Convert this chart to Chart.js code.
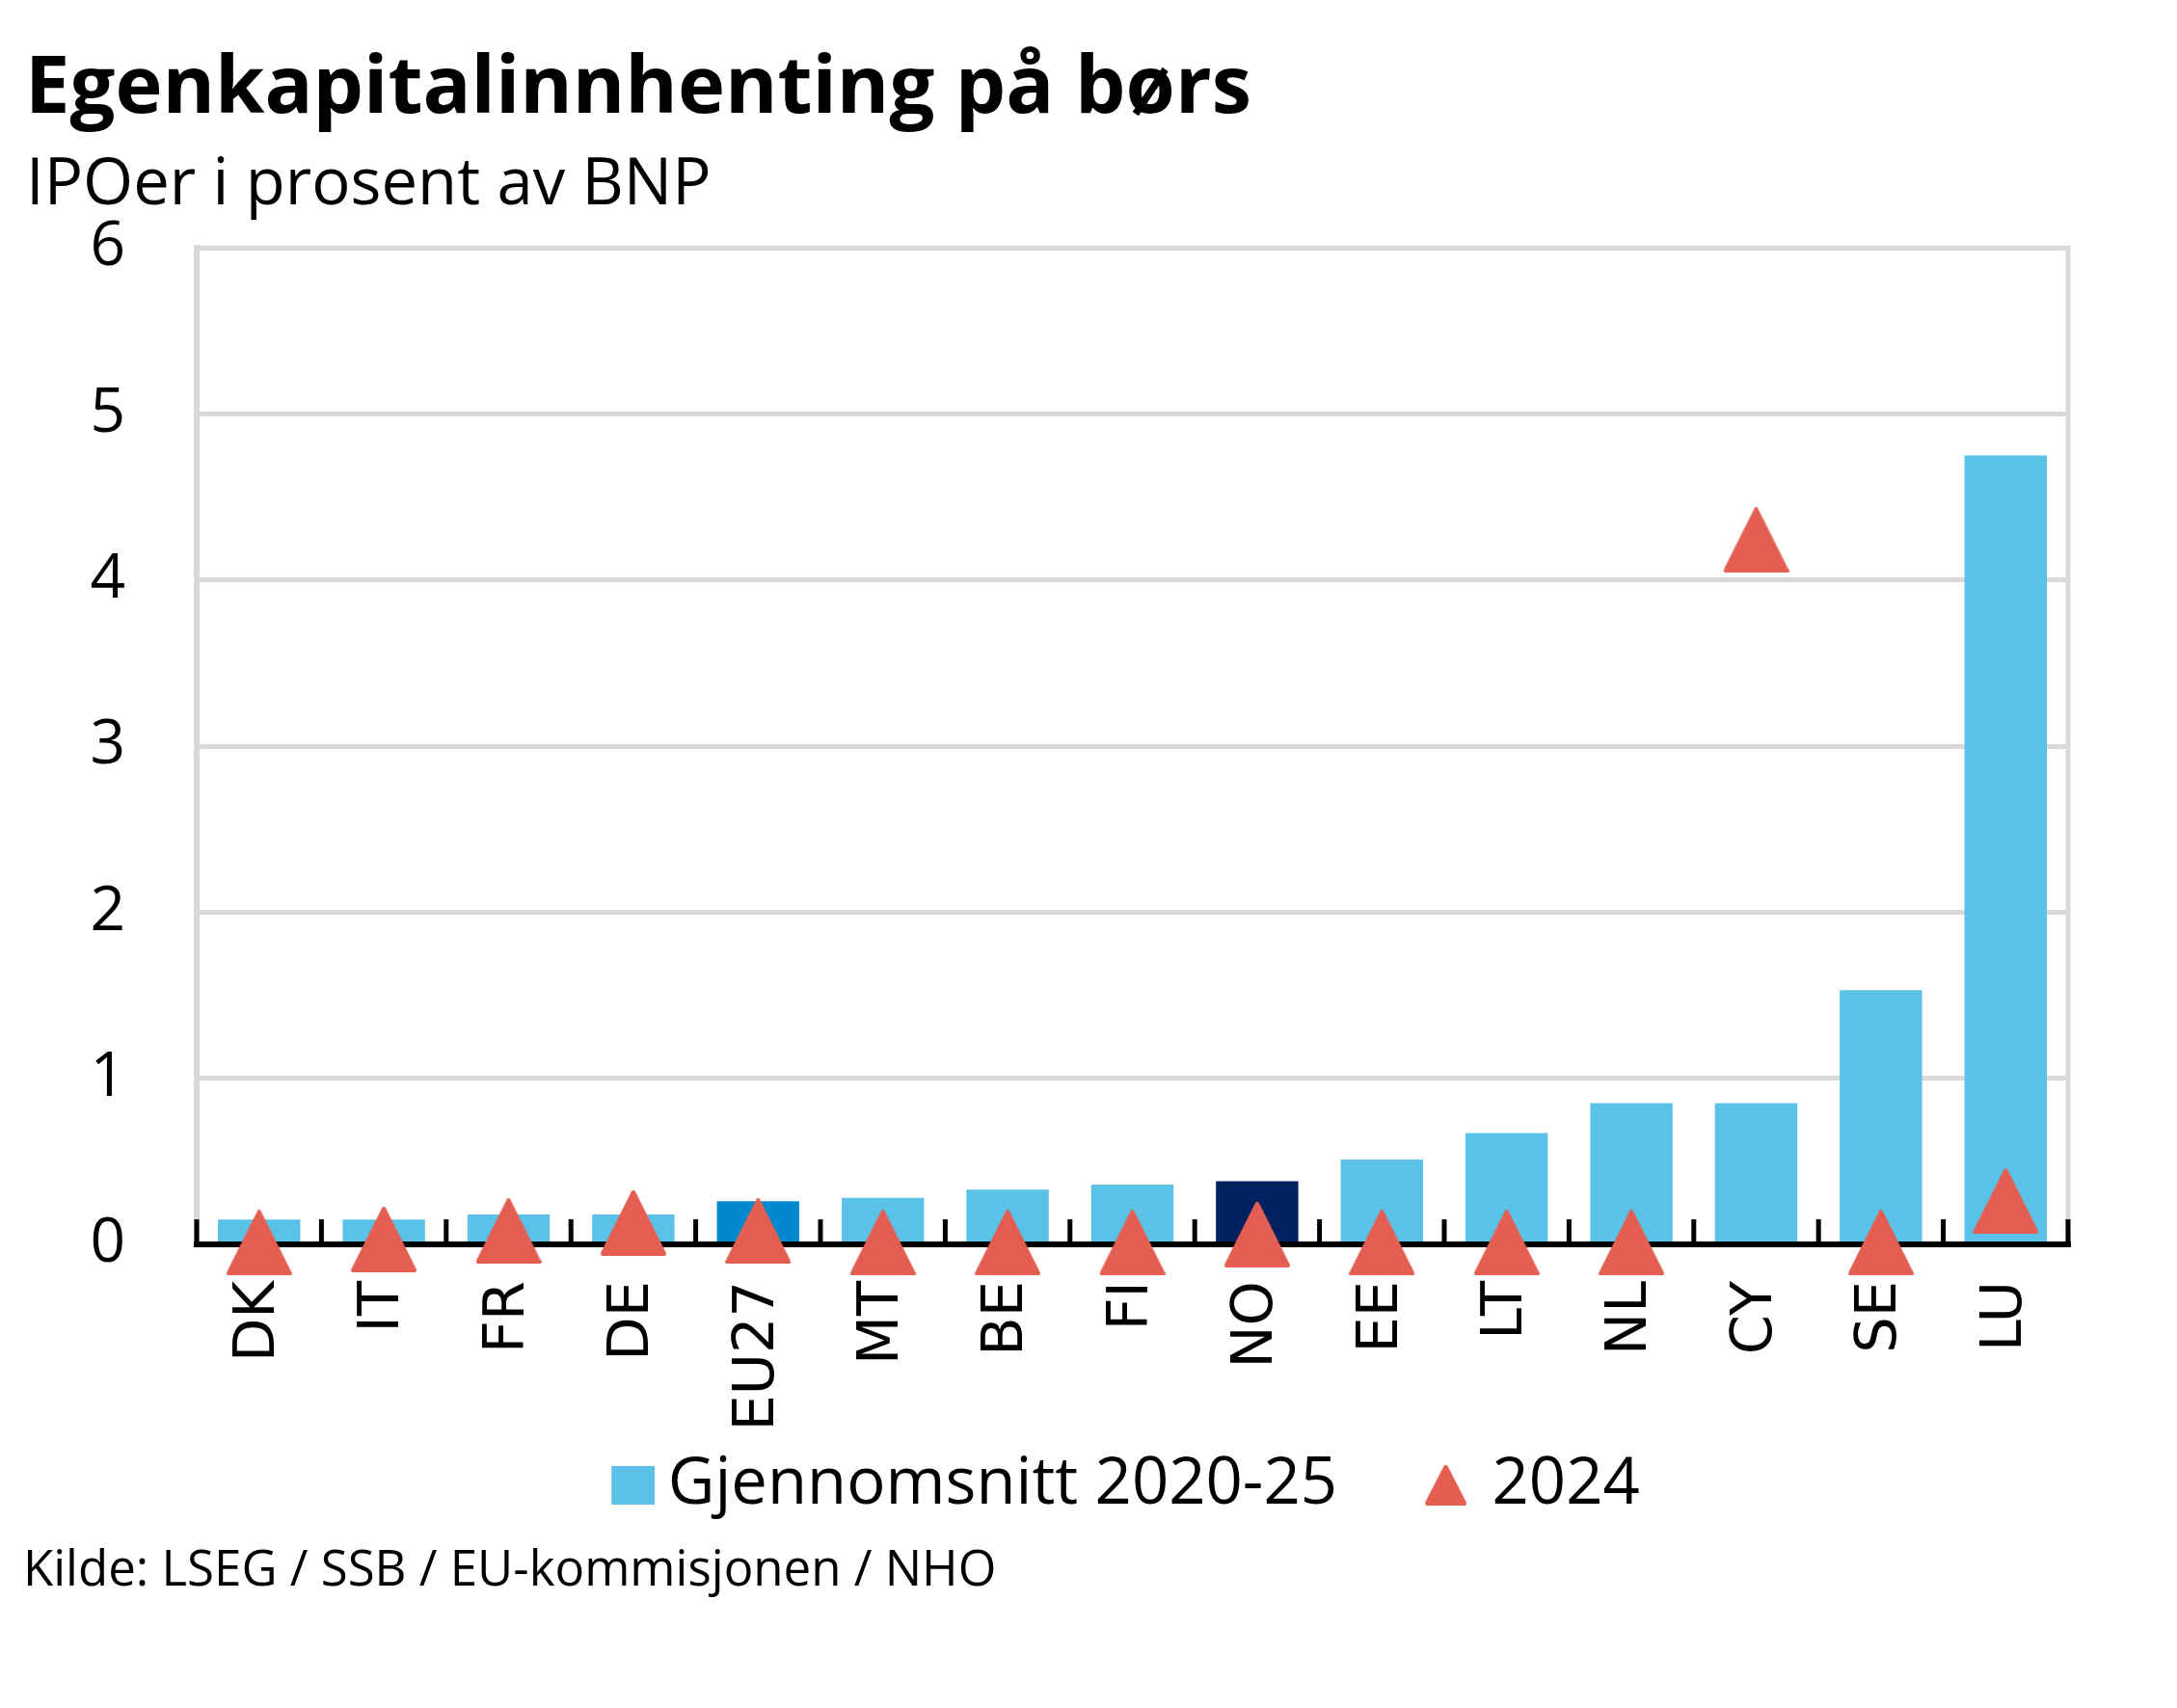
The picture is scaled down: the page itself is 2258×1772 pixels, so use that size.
<!DOCTYPE html>
<html lang="no">
<head>
<meta charset="utf-8">
<title>Egenkapitalinnhenting på børs</title>
<script src="https://cdn.jsdelivr.net/npm/chart.js@4.4.1/dist/chart.umd.min.js"></script>
<style>
    html, body { margin: 0; padding: 0; background: #fff; }
    canvas { display: block; }
</style>
</head>
<body>
<canvas id="iposChart" width="2258" height="1772"></canvas>
<script>
// Data
const TITLE = 'Egenkapitalinnhenting på børs';
const SUBTITLE = 'IPOer i prosent av BNP';
const SOURCE = 'Kilde: LSEG / SSB / EU-kommisjonen / NHO';

const categories = ['DK', 'IT', 'FR', 'DE', 'EU27', 'MT', 'BE', 'FI', 'NO', 'EE', 'LT', 'NL', 'CY', 'SE', 'LU'];
const avg2020to25 = [0.15, 0.15, 0.18, 0.18, 0.26, 0.28, 0.33, 0.36, 0.38, 0.51, 0.67, 0.85, 0.85, 1.53, 4.75];
const ipo2024 = [0.01, 0.03, 0.08, 0.13, 0.08, 0.01, 0.01, 0.01, 0.06, 0.01, 0.01, 0.01, 4.24, 0.01, 0.26];
const seriesNames = ['Gjennomsnitt 2020-25', '2024'];
const yMin = 0, yMax = 6, yStep = 1;

// Colours
const colors = {
    bar: '#5BC2E7',
    eu: '#0089CF',
    norway: '#002060',
    marker: '#E45F52',
    grid: '#D9D9D9',
    text: '#000000'
};
const highlight = { EU27: colors.eu, NO: colors.norway };

const FONT = '"Open Sans", "Noto Sans", sans-serif';

/**
 * Small canvases used as point styles (marker and legend icons).
 * dx shifts the shape right of the canvas centre.
 */
function makeIcon(shape, w, h, color, dx) {
    dx = dx || 0;
    const c = document.createElement('canvas');
    c.width = Math.ceil(2 * (Math.abs(dx) + w / 2));
    c.height = h;
    const g = c.getContext('2d');
    const x0 = c.width / 2 + dx - w / 2;
    g.fillStyle = color;
    if (shape === 'rect') {
        g.fillRect(x0, 0, w, h);
        return c;
    }
    const r = 2;
    g.strokeStyle = color;
    g.lineWidth = 2 * r;
    g.lineJoin = 'round';
    g.beginPath();
    g.moveTo(x0 + w / 2, r);
    g.lineTo(x0 + w - r, h - r);
    g.lineTo(x0 + r, h - r);
    g.closePath();
    g.fill();
    g.stroke();
    return c;
}

const markerPoint = makeIcon('triangle', 68, 68, colors.marker);
const barLegend = makeIcon('rect', 45, 40, colors.bar, 53);
const markerLegend = makeIcon('triangle', 43, 42, colors.marker, 41);

/**
 * Plot frame: right border, black category axis with inner tick marks,
 * headings and source note
 */
const framePlugin = {
    id: 'frame',
    beforeDatasetsDraw(chart) {
        const { ctx, chartArea } = chart;
        ctx.save();
        ctx.strokeStyle = colors.grid;
        ctx.lineWidth = 5;
        ctx.beginPath();
        ctx.moveTo(chartArea.right, chartArea.top - 2.5);
        ctx.lineTo(chartArea.right, chartArea.bottom);
        ctx.stroke();
        ctx.restore();
    },
    afterDatasetDraw(chart, args) {
        if (args.meta.type !== 'bar') return;
        const { ctx, chartArea } = chart;
        const xs = chart.scales.x;
        ctx.save();
        ctx.strokeStyle = '#000';
        ctx.lineWidth = 5;
        for (let i = 0; i <= categories.length; i++) {
            const x = xs.getPixelForValue(i - 0.5);
            ctx.beginPath();
            ctx.moveTo(x, chartArea.bottom);
            ctx.lineTo(x, chartArea.bottom - 26);
            ctx.stroke();
        }
        ctx.lineWidth = 6;
        ctx.beginPath();
        ctx.moveTo(chartArea.left - 3, chartArea.bottom);
        ctx.lineTo(chartArea.right + 3, chartArea.bottom);
        ctx.stroke();
        ctx.restore();
    },
    afterDraw(chart) {
        const ctx = chart.ctx;
        ctx.save();
        ctx.fillStyle = colors.text;
        ctx.textAlign = 'left';
        ctx.textBaseline = 'alphabetic';
        ctx.font = '700 83px ' + FONT;
        ctx.fillText(TITLE, 26, 117);
        ctx.font = '400 67px ' + FONT;
        ctx.fillText(SUBTITLE, 27, 212);
        ctx.font = '400 51px ' + FONT;
        ctx.fillText(SOURCE, 24, 1645);
        ctx.restore();
    }
};

const ctx = document.getElementById('iposChart').getContext('2d');

new Chart(ctx, {
    type: 'bar',
    data: {
        labels: categories,
        datasets: [
            {
                type: 'bar',
                label: seriesNames[0],
                data: avg2020to25,
                backgroundColor: categories.map(c => highlight[c] || colors.bar),
                barPercentage: 0.66,
                categoryPercentage: 1,
                borderWidth: 0,
                order: 1
            },
            {
                type: 'line',
                label: seriesNames[1],
                data: ipo2024,
                showLine: false,
                pointStyle: markerPoint,
                pointBackgroundColor: colors.marker,
                clip: false,
                order: 0
            }
        ]
    },
    options: {
        responsive: false,
        devicePixelRatio: 1,
        animation: false,
        layout: {
            padding: { left: 60, right: 69, top: 257, bottom: 188 }
        },
        scales: {
            x: {
                offset: true,
                grid: { display: false },
                border: { display: false },
                ticks: {
                    color: colors.text,
                    font: { family: '"DejaVu Sans", sans-serif', size: 59 },
                    minRotation: 90,
                    maxRotation: 90,
                    autoSkip: false,
                    padding: 30
                },
                afterFit(scale) { scale.height = 200; }
            },
            y: {
                min: yMin,
                max: yMax,
                ticks: {
                    stepSize: yStep,
                    color: colors.text,
                    font: { family: FONT, size: 64 },
                    padding: 74
                },
                grid: {
                    color: colors.grid,
                    lineWidth: 5,
                    drawTicks: false
                },
                border: { color: colors.grid, width: 6 },
                afterFit(scale) { scale.width = 144; }
            },
            // empty right-hand spacer so the legend row centres like the original
            yRight: {
                type: 'linear',
                position: 'right',
                grid: { display: false },
                border: { display: false },
                ticks: { display: false },
                afterFit(scale) { scale.width = 44; }
            }
        },
        plugins: {
            legend: {
                position: 'bottom',
                labels: {
                    usePointStyle: true,
                    pointStyleWidth: 111,
                    boxHeight: 13,
                    padding: 16,
                    color: colors.text,
                    font: { family: FONT, size: 67 },
                    sort: (a, b) => a.datasetIndex - b.datasetIndex,
                    generateLabels(chart) {
                        const items = Chart.defaults.plugins.legend.labels.generateLabels(chart);
                        items.forEach(item => {
                            item.pointStyle = item.datasetIndex === 0 ? barLegend : markerLegend;
                        });
                        return items;
                    }
                }
            },
            tooltip: { enabled: false }
        }
    },
    plugins: [framePlugin]
});
</script>
</body>
</html>
